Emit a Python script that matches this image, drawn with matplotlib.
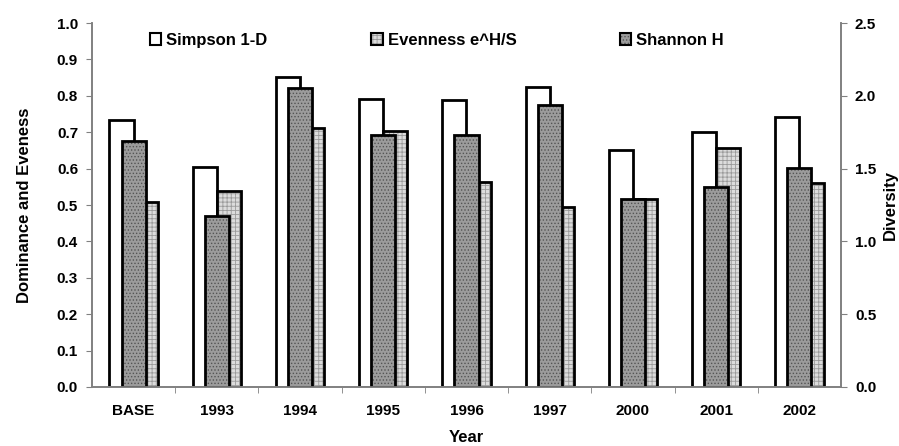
#!/usr/bin/env python3

import numpy as np
import matplotlib
import matplotlib.pyplot as plt
from matplotlib.patches import Patch
from matplotlib.legend_handler import HandlerTuple
matplotlib.use('Agg')

# diversity indices per sampling year
years = ['BASE', '1993', '1994', '1995', '1996', '1997', '2000', '2001', '2002']
simpson = [0.733, 0.605, 0.851, 0.791, 0.788, 0.825, 0.651, 0.700, 0.741]
evenness = [0.507, 0.539, 0.711, 0.704, 0.562, 0.495, 0.516, 0.657, 0.561]
shannon = [1.69, 1.177, 2.056, 1.729, 1.729, 1.935, 1.289, 1.376, 1.502]

plt.rcParams['font.family'] = ['Liberation Sans', 'DejaVu Sans']
plt.rcParams['font.weight'] = 'bold'
plt.rcParams['hatch.linewidth'] = 0.6

AXIS_GRAY = '#808080'
FS = 11       # tick labels
FS_LAB = 12   # axis labels and legend


def hatched_bar(ax, x, h, width, face, hatch_col, hatch):
    # fill with hatch in its own colour, then a black outline on top
    ax.bar(x, h, width, color=face, edgecolor=hatch_col, hatch=hatch,
           linewidth=0)
    ax.bar(x, h, width, fill=False, edgecolor='black', linewidth=2)


def main():
    fig = plt.figure(figsize=(8.99, 4.46), dpi=100)
    ax = fig.add_axes([0.1023, 0.1323, 0.8332, 0.8161])
    ax2 = ax.twinx()

    x = np.arange(len(years))
    w = 0.29
    off = 0.145

    ax.bar(x - off, simpson, w, color='white', edgecolor='black',
           linewidth=2)
    hatched_bar(ax, x + off, evenness, w, '#dcdcdc', '#9a9a9a', '++++')
    hatched_bar(ax2, x, shannon, w, '#9c9c9c', '#555555', '.....')

    ax.set_xlim(-0.5, len(years) - 0.5)
    ax.set_ylim(0, 1.0)
    ax2.set_ylim(0, 2.5)
    ax.set_yticks(np.arange(0, 1.01, 0.1))
    ax.set_yticklabels(['{:.1f}'.format(v) for v in np.arange(0, 1.01, 0.1)])
    ax2.set_yticks(np.arange(0, 2.51, 0.5))
    ax2.set_yticklabels(['{:.1f}'.format(v) for v in np.arange(0, 2.51, 0.5)])

    ax.set_xticks(x)
    ax.set_xticklabels(years)
    ax.set_xticks(np.arange(0.5, len(years) - 1, 1), minor=True)
    ax.tick_params(axis='x', which='major', length=0, pad=12,
                   labelsize=FS)
    ax.tick_params(axis='x', which='minor', length=4, color=AXIS_GRAY)
    ax.tick_params(axis='y', length=4, color=AXIS_GRAY, labelsize=FS, pad=6)
    ax2.tick_params(axis='y', length=4, color=AXIS_GRAY, labelsize=FS,
                    pad=6)

    for a in (ax, ax2):
        a.spines['top'].set_visible(False)
        for s in ('left', 'right', 'bottom'):
            a.spines[s].set_color(AXIS_GRAY)
            a.spines[s].set_linewidth(1.2)

    ax.set_xlabel('Year', fontsize=FS_LAB, fontweight='bold', labelpad=9)
    ax.set_ylabel('Dominance and Eveness', fontsize=FS_LAB,
                  fontweight='bold', labelpad=18)
    ax2.set_ylabel('Diversity', fontsize=FS_LAB, fontweight='bold',
                   labelpad=5)

    # legend handles: hatched patch with black outline overlaid
    h_simp = Patch(facecolor='white', edgecolor='black', linewidth=1.5)
    h_even = (Patch(facecolor='#dcdcdc', edgecolor='#9a9a9a', hatch='++++',
                    linewidth=0),
              Patch(fill=False, edgecolor='black', linewidth=1.5))
    h_shan = (Patch(facecolor='#9c9c9c', edgecolor='#555555', hatch='.....',
                    linewidth=0),
              Patch(fill=False, edgecolor='black', linewidth=1.5))
    ax2.legend([h_simp, h_even, h_shan],
               ['Simpson 1-D', 'Evenness e^H/S', 'Shannon H'],
               handler_map={tuple: HandlerTuple(ndivide=1, pad=0)},
               ncol=3, loc='center left', bbox_to_anchor=(0.077, 0.953),
               frameon=False, fontsize=FS_LAB, handlelength=0.7,
               handleheight=0.7, handletextpad=0.3, columnspacing=6.2,
               borderpad=0, borderaxespad=0)

    fig.savefig('out.png', dpi=100)


if __name__ == '__main__':
    main()
